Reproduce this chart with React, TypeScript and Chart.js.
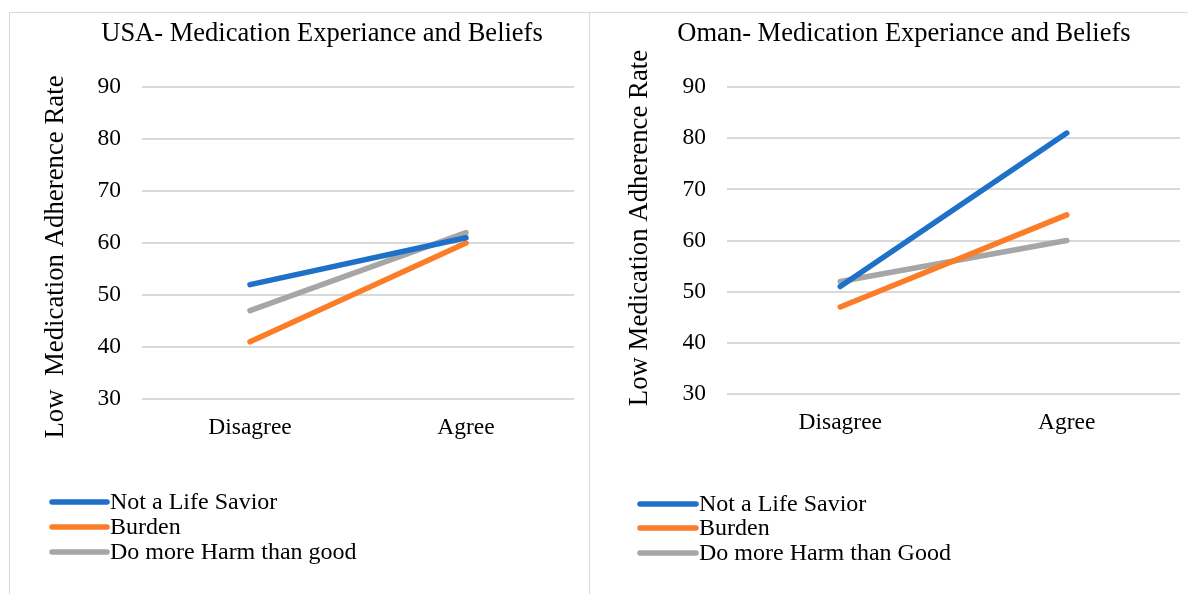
import React, { useEffect, useRef } from "react";
import { Chart, registerables } from "chart.js";

Chart.register(...registerables);

const FONT = '"Liberation Serif", "Times New Roman", serif';

const categories = ["Disagree", "Agree"];
const yMin = 30;
const yMax = 90;
const yStep = 10;

const usaTitle = "USA- Medication Experiance and Beliefs";
const usaAxisTitle = "Low  Medication Adherence Rate";
const usaSeriesNames = ["Not a Life Savior", "Burden", "Do more Harm than good"];
const usaNotLifeSavior = [52, 61];
const usaBurden = [41, 60];
const usaMoreHarm = [47, 62];

const omanTitle = "Oman- Medication Experiance and Beliefs";
const omanAxisTitle = "Low Medication Adherence Rate";
const omanSeriesNames = ["Not a Life Savior", "Burden", "Do more Harm than Good"];
const omanNotLifeSavior = [51, 81];
const omanBurden = [47, 65];
const omanMoreHarm = [52, 60];

const seriesColors = ["#1f70c8", "#fb7d28", "#a6a6a6"];

type PanelLayout = {
  width: number;
  height: number;
  areaLeft: number;
  areaRight: number;
  areaTop: number;
  areaBottom: number;
  titleX: number;
  titleY: number;
  axisTitleX: number;
  axisTitleY: number;
  legendX1: number;
  legendX2: number;
  legendTextX: number;
  legendRows: number[];
};

const usaLayout: PanelLayout = {
  width: 589,
  height: 594,
  areaLeft: 142,
  areaRight: 574,
  areaTop: 87,
  areaBottom: 399,
  titleX: 322,
  titleY: 41,
  axisTitleX: 63,
  axisTitleY: 257,
  legendX1: 52,
  legendX2: 107,
  legendTextX: 110,
  legendRows: [502, 527, 552],
};

const omanLayout: PanelLayout = {
  width: 599,
  height: 594,
  areaLeft: 138,
  areaRight: 591,
  areaTop: 87,
  areaBottom: 394,
  titleX: 315,
  titleY: 41,
  axisTitleX: 58,
  axisTitleY: 228,
  legendX1: 51,
  legendX2: 107,
  legendTextX: 110,
  legendRows: [504, 528, 553],
};

const decorPlugin = {
  id: "decor",
  afterDraw(chart: any, _args: any, opts: any) {
    const ctx = chart.ctx as CanvasRenderingContext2D;
    const L: PanelLayout = opts.layout;
    ctx.save();
    ctx.fillStyle = "#000";
    ctx.font = `26.5px ${FONT}`;
    ctx.textAlign = "center";
    ctx.textBaseline = "alphabetic";
    ctx.fillText(opts.title, L.titleX, L.titleY);

    ctx.save();
    ctx.font = `26.8px ${FONT}`;
    ctx.translate(L.axisTitleX, L.axisTitleY);
    ctx.rotate(-Math.PI / 2);
    ctx.fillText(opts.axisTitle, 0, 0);
    ctx.restore();

    ctx.font = `24px ${FONT}`;
    ctx.textAlign = "left";
    ctx.textBaseline = "middle";
    chart.data.datasets.forEach((ds: any, i: number) => {
      const y = L.legendRows[i];
      ctx.strokeStyle = ds.borderColor;
      ctx.lineWidth = 5.5;
      ctx.lineCap = "round";
      ctx.beginPath();
      ctx.moveTo(L.legendX1, y);
      ctx.lineTo(L.legendX2, y);
      ctx.stroke();
      ctx.fillStyle = "#000";
      ctx.fillText(ds.label, L.legendTextX, y + 1);
    });
    ctx.restore();
  },
};

function buildConfig(
  L: PanelLayout,
  title: string,
  axisTitle: string,
  names: string[],
  series: number[][]
): any {
  const xAxisHeight = 60;
  return {
    type: "line",
    data: {
      labels: categories,
      datasets: series.map((values, i) => ({
        label: names[i],
        data: values,
        borderColor: seriesColors[i],
        backgroundColor: seriesColors[i],
        borderWidth: 5.5,
        borderCapStyle: "round",
        pointRadius: 0,
        pointHoverRadius: 0,
        tension: 0,
        fill: false,
      })),
    },
    options: {
      responsive: false,
      animation: false,
      devicePixelRatio: 1,
      layout: {
        padding: {
          left: 0,
          top: L.areaTop,
          right: L.width - L.areaRight,
          bottom: L.height - L.areaBottom - xAxisHeight,
        },
      },
      plugins: {
        legend: { display: false },
        title: { display: false },
        tooltip: { enabled: false },
        decor: { layout: L, title, axisTitle },
      },
      scales: {
        x: {
          type: "category",
          offset: true,
          grid: { display: false, drawTicks: false },
          border: { display: false },
          ticks: {
            color: "#000",
            font: { family: FONT, size: 23.5 },
            padding: 15,
            maxRotation: 0,
          },
          afterFit: (scale: any) => {
            scale.height = xAxisHeight;
          },
        },
        y: {
          min: yMin,
          max: yMax,
          grid: { color: "#d9d9d9", lineWidth: 2, drawTicks: false },
          border: { display: false },
          ticks: {
            stepSize: yStep,
            color: "#000",
            font: { family: FONT, size: 23.5 },
            padding: 21,
          },
          afterFit: (scale: any) => {
            scale.width = L.areaLeft;
          },
        },
      },
    },
    plugins: [decorPlugin],
  };
}

function Panel(props: {
  layout: PanelLayout;
  left: number;
  title: string;
  axisTitle: string;
  names: string[];
  series: number[][];
}) {
  const ref = useRef<HTMLCanvasElement | null>(null);
  useEffect(() => {
    if (!ref.current) return;
    const chart = new Chart(
      ref.current,
      buildConfig(props.layout, props.title, props.axisTitle, props.names, props.series)
    );
    return () => chart.destroy();
  }, []);
  return (
    <canvas
      ref={ref}
      width={props.layout.width}
      height={props.layout.height}
      style={{
        position: "absolute",
        left: props.left,
        top: 0,
        width: props.layout.width,
        height: props.layout.height,
      }}
    />
  );
}

export default function App() {
  return (
    <div
      style={{
        position: "fixed",
        left: 0,
        top: 0,
        width: 1188,
        height: 594,
        background: "#fff",
        overflow: "hidden",
      }}
    >
      <div
        style={{
          position: "absolute",
          left: 9,
          top: 12,
          width: 581,
          height: 640,
          boxSizing: "border-box",
          border: "1px solid #d9d9d9",
        }}
      />
      <div
        style={{
          position: "absolute",
          left: 589,
          top: 12,
          width: 640,
          height: 640,
          boxSizing: "border-box",
          border: "1px solid #d9d9d9",
        }}
      />
      <Panel
        layout={usaLayout}
        left={0}
        title={usaTitle}
        axisTitle={usaAxisTitle}
        names={usaSeriesNames}
        series={[usaNotLifeSavior, usaBurden, usaMoreHarm]}
      />
      <Panel
        layout={omanLayout}
        left={589}
        title={omanTitle}
        axisTitle={omanAxisTitle}
        names={omanSeriesNames}
        series={[omanNotLifeSavior, omanBurden, omanMoreHarm]}
      />
    </div>
  );
}
